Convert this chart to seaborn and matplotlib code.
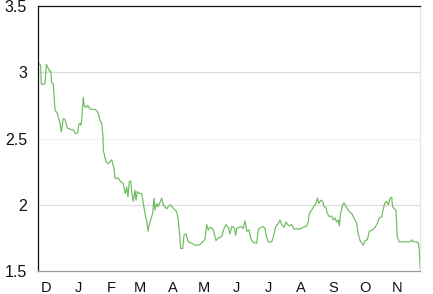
import numpy as np
import pandas as pd
import matplotlib
matplotlib.use("Agg")
import matplotlib.pyplot as plt
import seaborn as sns

# days relative to 1 Dec 2014, and the plotted values
day_offsets = [
    -7.6, -5.1, -4.5, -1.6, -0.7, 0.3, 1.6, 3.1, 4.5, 5.4, 7.0, 8.6, 10.8, 13.4, 14.6,
    16.5, 18.1, 20.3, 22.9, 26.0, 27.7, 30.2, 31.2, 32.4, 33.4, 34.1, 35.6, 36.5, 38.2,
    39.8, 41.3, 42.6, 46.7, 48.4, 49.9, 51.5, 53.1, 54.4, 54.7, 57.2, 59.4, 62.7, 64.9,
    65.8, 69.0, 71.3, 73.7, 75.7, 77.0, 78.2, 79.5, 80.8, 82.0, 83.3, 84.9, 85.9, 87.1,
    89.0, 91.3, 92.8, 94.4, 96.1, 97.3, 98.5, 99.9, 101.8, 103.0, 104.0, 105.6, 107.1,
    108.8, 110.4, 111.9, 115.1, 118.3, 120.9, 123.1, 124.7, 126.2, 127.8, 128.5, 130.4,
    131.7, 133.6, 135.8, 139.0, 142.1, 145.3, 146.9, 149.5, 151.7, 153.3, 154.8,
    156.5, 159.0, 160.3, 162.2, 164.4, 167.6, 169.8, 171.7, 173.9, 175.5, 177.1, 179.4,
    181.0, 181.9, 184.4, 186.7, 188.2, 189.8, 191.5, 193.7, 195.3, 197.8, 201.0, 202.5,
    204.8, 207.3, 208.9, 210.5, 212.0, 215.3, 216.8, 219.1, 221.0, 223.2, 224.8, 227.1,
    229.0, 230.6, 232.1, 234.4, 236.6, 238.5, 240.7, 243.0, 245.5, 248.7, 250.2, 251.2,
    253.5, 255.7, 257.6, 258.8, 260.4, 262.1, 264.0, 265.2, 267.1, 268.4, 270.3, 272.6,
    274.1, 275.7, 277.3, 278.9, 279.8, 281.1, 283.0, 284.3, 286.2, 287.4, 289.4, 291.6,
    293.8, 296.4, 297.9, 299.6, 301.2, 302.7, 304.3, 306.5, 308.4, 310.1, 312.3, 313.9,
    316.1, 318.0, 320.3, 321.8, 323.4, 325.0, 326.6, 328.2, 329.8, 330.7, 332.3, 333.9,
    335.1, 336.8, 340.9, 347.3, 348.9, 350.4, 353.7, 355.2, 356.1, 356.8,
]
values = [
    3.07, 3.055, 2.91, 2.91, 2.93, 3.06, 3.04, 3.01, 3.01, 2.92, 2.91, 2.715, 2.69, 2.615, 2.55,
    2.65, 2.645, 2.58, 2.57, 2.565, 2.54, 2.54, 2.60, 2.615, 2.60, 2.64, 2.81, 2.745, 2.735,
    2.75, 2.73, 2.72, 2.72, 2.71, 2.69, 2.635, 2.62, 2.51, 2.41, 2.325, 2.31, 2.34, 2.275,
    2.20, 2.20, 2.175, 2.16, 2.085, 2.135, 2.06, 2.175, 2.18, 2.085, 2.025, 2.11, 2.035, 2.10,
    2.085, 2.085, 2.01, 1.935, 1.875, 1.80, 1.85, 1.885, 1.935, 2.05, 1.96, 2.01, 1.985,
    2.02, 2.05, 2.0, 1.97, 2.0, 1.98, 1.96, 1.945, 1.885, 1.745, 1.67, 1.67,
    1.77, 1.78, 1.72, 1.71, 1.695, 1.695, 1.70, 1.72, 1.74, 1.85, 1.81,
    1.83, 1.82, 1.79, 1.73, 1.75, 1.76, 1.82, 1.85, 1.83, 1.78, 1.835, 1.83,
    1.77, 1.82, 1.83, 1.835, 1.82, 1.88, 1.80, 1.81, 1.745, 1.715, 1.71, 1.81,
    1.83, 1.835, 1.82, 1.755, 1.72, 1.72, 1.755, 1.835, 1.85, 1.885, 1.85, 1.83,
    1.87, 1.85, 1.84, 1.85, 1.815, 1.82, 1.815, 1.82, 1.83, 1.84, 1.87, 1.935,
    1.96, 1.99, 2.01, 2.05, 2.01, 2.035, 2.025, 1.985, 1.98, 1.935, 1.91, 1.915,
    1.885, 1.90, 1.87, 1.885, 1.84, 1.935, 2.0, 2.015, 1.985, 1.97, 1.945, 1.935,
    1.90, 1.86, 1.78, 1.73, 1.71, 1.695, 1.73, 1.735, 1.80, 1.805, 1.815, 1.83,
    1.86, 1.90, 1.91, 1.97, 2.015, 2.025, 2.0, 2.05, 2.055, 1.985, 1.97, 1.96,
    1.76, 1.72, 1.72, 1.72, 1.735, 1.72, 1.72, 1.71, 1.66, 1.52,
]
month_labels = ["D", "J", "F", "M", "A", "M", "J", "J", "A", "S", "O", "N"]
y_ticks = [1.5, 2, 2.5, 3, 3.5]
y_tick_labels = ["1.5", "2", "2.5", "3", "3.5"]

base = pd.Timestamp("2014-12-01")
df = pd.DataFrame({
    "date": base + pd.to_timedelta(day_offsets, unit="D"),
    "value": values,
})

sns.set_style("white")
plt.rcParams["font.family"] = ["Liberation Sans", "DejaVu Sans"]

fig = plt.figure(figsize=(4.33, 2.94), dpi=100)
ax = fig.add_axes([0.0878, 0.0782, 0.97 - 0.0878, 0.9796 - 0.0782])

sns.lineplot(data=df, x="date", y="value", ax=ax, color="#6dbb5e", linewidth=0.85,
             estimator=None, sort=False)

ax.set_xlim(df["date"].min(), df["date"].max())
ax.set_ylim(1.5, 3.5)

# y axis
ax.set_yticks(y_ticks)
ax.set_yticklabels(y_tick_labels)
ax.tick_params(axis="y", which="major", length=0, pad=8, labelsize=11.5, labelcolor="#111111")
ax.set_yticks([1.5, 3.5], minor=True)
ax.tick_params(axis="y", which="minor", length=6, width=0.9, color="#999999")
minor_lines = [t.tick1line for t in ax.yaxis.get_minor_ticks()]
if len(minor_lines) == 2:
    minor_lines[0].set_color("#999999")
    minor_lines[1].set_color("#111111")

# grid lines
for yv, c in [(2.0, "#dddddd"), (3.0, "#dddddd"), (2.5, "#f3f3f3")]:
    ax.axhline(yv, color=c, linewidth=0.9, zorder=0)

# x axis: month ticks
months = pd.date_range("2014-12-01", periods=len(month_labels), freq="MS")
ax.set_xticks(months)
ax.set_xticklabels(month_labels)
ax.tick_params(axis="x", which="major", length=5, width=0.9, color="#999999", pad=2,
               labelsize=10.5, labelcolor="#111111")
ax.set_xlabel("")
ax.set_ylabel("")

for side, c in [("top", "#111111"), ("left", "#111111"), ("bottom", "#999999"), ("right", "#e6e6e6")]:
    ax.spines[side].set_visible(True)
    ax.spines[side].set_color(c)
    ax.spines[side].set_linewidth(0.9)

fig.savefig("out.png", dpi=100)
